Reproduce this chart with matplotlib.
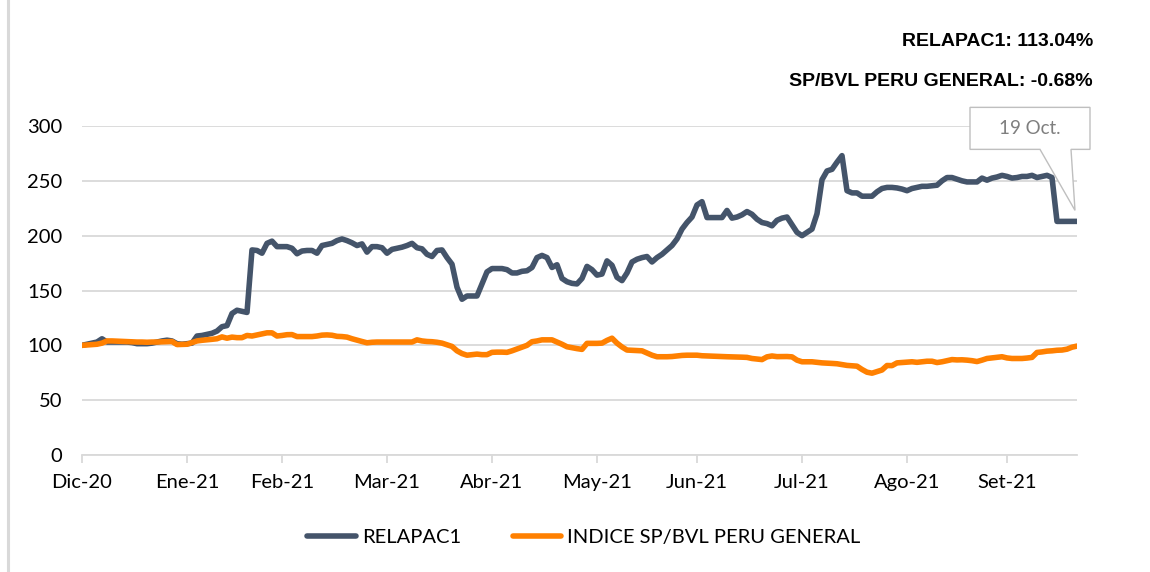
import matplotlib
matplotlib.use("Agg")
from matplotlib import pyplot as plt
from matplotlib.patches import Polygon
from matplotlib.lines import Line2D
import matplotlib.transforms as mtransforms
import numpy as np

# ---- data (one value per trading day, base 100) ----
relapac = [100, 101, 102, 103, 106, 103, 103, 103, 103, 103,
           102.5, 101.5, 101.5, 101.5, 102, 103, 104, 104.7, 104, 101.5,
           101, 101.5, 102, 108.5, 109, 110, 111, 113, 117, 118,
           129, 132, 131, 130, 187, 186.5, 184, 193, 195, 190,
           190, 190, 188.5, 183.5, 186, 186.5, 186.5, 184, 191, 192,
           193, 195.5, 197, 195.5, 193.5, 191, 192.5, 185, 190, 190,
           189, 184, 187.5, 188.5, 189.5, 191, 193, 189, 188, 183,
           181, 186.5, 187, 180, 174, 153, 142, 145, 145, 145,
           156, 167, 170, 170, 170, 169, 166, 166, 167.5, 168,
           171, 180, 182, 180, 171, 173.5, 161, 158, 156.5, 156,
           161, 172, 169, 164, 165, 177, 173, 162, 159, 166,
           176, 178.5, 180, 181, 176, 180, 183, 187, 191, 197,
           206, 212, 217, 228, 231, 216.5, 216.5, 216.5, 216.5, 223,
           216, 217, 219, 222, 219.5, 215, 212, 211, 209, 214,
           216, 217, 210, 203, 200, 203, 206, 220, 251, 259,
           260.5, 267, 273, 241, 239, 239, 236, 236, 236, 240,
           243, 244, 244, 243.5, 242.5, 241, 243, 244, 245, 245,
           245.5, 246, 250, 253, 253, 251.5, 250, 249, 249, 249,
           252.5, 250.6, 252.5, 253.5, 255, 254, 252.5, 253, 254, 254,
           255, 253, 254, 255, 253, 213, 213, 213, 213, 213.04]

spbvl = [100, 100.3, 100.6, 101, 102, 104, 104, 103.8, 103.6, 103.5,
         103.3, 103, 103, 102.8, 103, 103, 103.2, 103.4, 103.5, 100.7,
         100.8, 101, 102.5, 104, 104.6, 105, 105.5, 106, 107.7, 106.5,
         107.5, 107, 107, 109, 108.5, 109.5, 110.5, 111.4, 111.4, 108.5,
         109, 109.7, 109.8, 108, 108, 108, 108, 108.5, 109.3, 109.5,
         109.2, 108.2, 108, 107.5, 106, 104.7, 103.5, 102.3, 102.8, 103,
         103, 103, 103, 103, 103, 103, 103, 105, 104, 103.5,
         103.3, 102.8, 102, 100.5, 99, 95, 92.5, 91, 91.5, 92,
         91.5, 91.5, 93.6, 93.8, 93.8, 93.6, 95, 96.7, 98.5, 100,
         103.3, 104, 105, 105, 105, 103, 101, 98.7, 97.8, 97,
         96.3, 101.8, 101.8, 101.8, 102, 104.5, 106.5, 102, 98.5, 95.7,
         95.5, 95.3, 95, 93, 91, 89.6, 89.6, 89.6, 89.8, 90.3,
         90.8, 91, 91, 91, 90.5, 90.3, 90, 90, 89.8, 89.6,
         89.5, 89.3, 89.2, 89, 88, 87.5, 87, 89.5, 90.3, 89.7,
         89.7, 89.8, 89.5, 86.5, 85, 85, 85, 84.5, 84, 83.8,
         83.5, 83.2, 82.5, 81.7, 81.3, 81, 78, 75.5, 74.6, 76,
         77.5, 81.6, 81.5, 84, 84.3, 84.6, 85, 84.5, 85, 85.5,
         85.5, 84.3, 85, 86, 87, 86.7, 86.8, 86.5, 86, 85.2,
         86.5, 88, 88.5, 89, 89.6, 88.5, 88, 88, 88, 88.4,
         89, 93.5, 94, 94.7, 95, 95.5, 95.7, 96.5, 98.3, 99.32]

month_labels = ["Dic-20", "Ene-21", "Feb-21", "Mar-21", "Abr-21",
                "May-21", "Jun-21", "Jul-21", "Ago-21", "Set-21"]
month_pos = [0, 21, 40, 61, 82, 103, 123, 144, 165, 185]

series_names = ["RELAPAC1", "INDICE SP/BVL PERU GENERAL"]
summary = ["RELAPAC1: 113.04%", "SP/BVL PERU GENERAL: -0.68%"]
callout_text = "19 Oct."

DARK = "#44546A"
ORANGE = "#FF8000"
GRID = "#D9D9D9"
FONT = ["Lato", "DejaVu Sans"]
LW = 4.0

fig = plt.figure(figsize=(11.5, 5.72), dpi=100)
ax = fig.add_axes([82 / 1150, 1 - 455 / 572, (1077 - 82) / 1150, (455 - 126) / 572])

x = np.arange(len(relapac))
ax.plot(x, relapac, color=DARK, lw=LW, solid_joinstyle="round", solid_capstyle="round", zorder=3)
ax.plot(x, spbvl, color=ORANGE, lw=LW, solid_joinstyle="round", solid_capstyle="round", zorder=3)

ax.set_xlim(0, len(relapac) - 1)
ax.set_ylim(0, 300)
ax.set_yticks(np.arange(0, 301, 50))
ax.yaxis.grid(True, color=GRID, lw=1.3)
ax.set_axisbelow(True)
for s in ["top", "right", "left"]:
    ax.spines[s].set_visible(False)
ax.spines["bottom"].set_color(GRID)
ax.spines["bottom"].set_linewidth(1.3)

ax.set_xticks(month_pos)
ax.set_xticklabels(month_labels)
ax.tick_params(axis="x", length=6, width=1.3, color=GRID, pad=8)
ax.tick_params(axis="y", length=0, pad=14)
for lab in ax.get_xticklabels() + ax.get_yticklabels():
    lab.set_fontfamily(FONT)
    lab.set_fontsize(14.5)
    lab.set_color("#000000")

# summary text (top right)
fig.text(1093 / 1150, 1 - 42 / 572, summary[0], ha="right", va="center",
         fontsize=14, fontweight="bold", family=["Liberation Sans", "DejaVu Sans"])
fig.text(1093 / 1150, 1 - 82 / 572, summary[1], ha="right", va="center",
         fontsize=14, fontweight="bold", family=["Liberation Sans", "DejaVu Sans"])

# callout on last point, offsets in pixels -> inches
off = mtransforms.ScaledTranslation(x[-1], relapac[-1], ax.transData)
tr = fig.dpi_scale_trans + off
verts = np.array([(-2, 11), (-6, 72), (13, 72), (13, 114), (-107, 114),
                  (-107, 72), (-37, 72)]) / 100.0
callout = Polygon(verts, closed=True, transform=tr, facecolor="white",
                  edgecolor="#BFBFBF", lw=1, clip_on=False, zorder=5)
ax.add_patch(callout)
ax.text(-0.47, 0.93, callout_text, transform=tr, ha="center", va="center",
        fontsize=13.5, color="#7F7F7F", family=FONT, zorder=6, clip_on=False)

# legend
handles = [Line2D([], [], color=DARK, lw=LW, solid_capstyle="round"),
           Line2D([], [], color=ORANGE, lw=LW, solid_capstyle="round")]
fig.legend(handles, series_names, loc="center", bbox_to_anchor=(584 / 1150, 1 - 537 / 572),
           ncol=2, frameon=False, prop={"family": FONT, "size": 14.5},
           handlelength=2.4, handletextpad=0.3, columnspacing=2.6)

# chart frame line on the left
fig.add_artist(Line2D([7.5 / 1150, 7.5 / 1150], [0, 1], color=GRID, lw=2.2, transform=fig.transFigure))

fig.savefig("out.png", dpi=100, facecolor="white")
